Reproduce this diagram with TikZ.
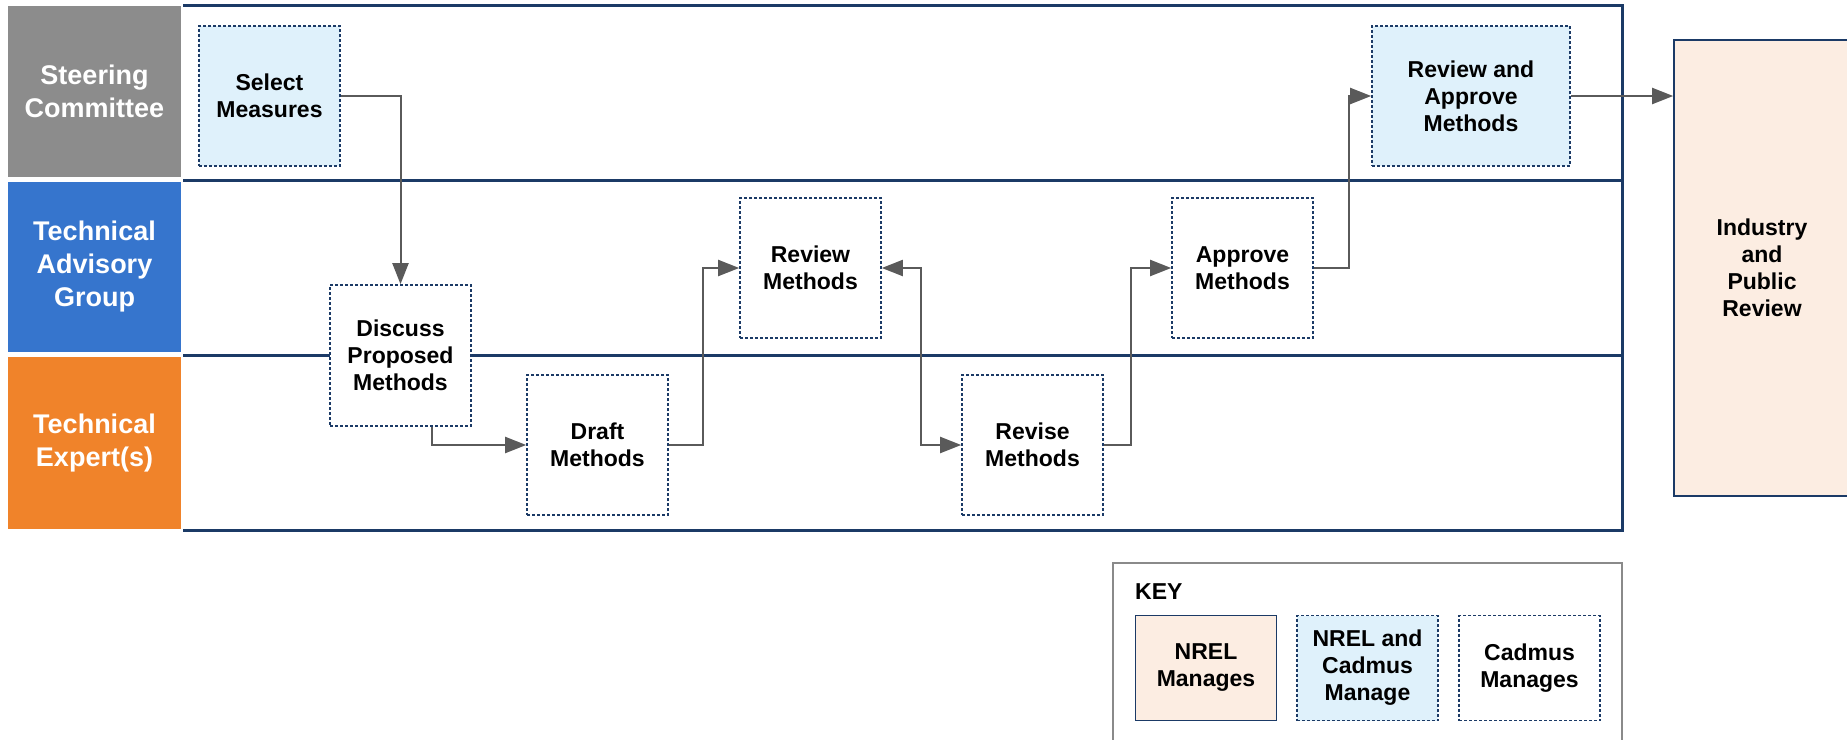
\documentclass[tikz,border=0pt]{standalone}
\usepackage{fontspec}
\setmainfont{Liberation Sans}
\usetikzlibrary{arrows.meta}

\definecolor{navy}{HTML}{1B3A66}
\definecolor{lanegray}{HTML}{8C8C8C}
\definecolor{laneblue}{HTML}{3675CD}
\definecolor{laneorange}{HTML}{F0832A}
\definecolor{paleblue}{HTML}{DFF1FB}
\definecolor{palepeach}{HTML}{FCEDE2}
\definecolor{flowgray}{HTML}{5A5A5A}
\definecolor{keygray}{HTML}{8A8A8A}

\tikzset{
  lanelabel/.style={fill=#1, text=white, inner sep=0pt, minimum width=173pt,
    minimum height=171pt, align=center, font=\fontsize{27}{33}\selectfont\bfseries},
  laneline/.style={draw=navy, line width=3pt},
  task/.style={draw=navy, line width=1.6pt, dash pattern=on 3pt off 2pt, fill=white,
    inner sep=0pt, minimum width=141pt, minimum height=140pt, align=center,
    font=\fontsize{23}{27}\selectfont\bfseries},
  jointtask/.style={task, fill=paleblue},
  nreltask/.style={task, solid, fill=palepeach},
  flow/.style={draw=flowgray, line width=2pt, -{Triangle[length=21pt,width=16pt]}},
}

\begin{document}
\begin{tikzpicture}[x=1pt,y=-1pt]
    \useasboundingbox (0,0) rectangle (1847,739);
    \node[lanelabel=lanegray] (sclab) at (94.5,91.5) {Steering\\Committee};
    \node[lanelabel=laneblue, minimum height=170pt] (taglab) at (94.5,267) {Technical\\Advisory\\Group};
    \node[lanelabel=laneorange, minimum height=172pt] (telab) at (94.5,443) {Technical\\Expert(s)};
    \draw[laneline] (183,5) -- (1622,5) -- (1622,530) -- (183,530);
    \draw[laneline] (183,180) -- (1622,180);
    \draw[laneline] (183,355) -- (1622,355);

    \node[jointtask] (sel) at (269.5,96) {Select\\Measures};
    \node[task, minimum height=141pt] (disc) at (400.5,355.5) {Discuss\\Proposed\\Methods};
    \node[task] (draft) at (597.5,445) {Draft\\Methods};
    \node[task] (revm) at (810.5,268) {Review\\Methods};
    \node[task] (revise) at (1032.5,445) {Revise\\Methods};
    \node[task] (appr) at (1242.5,268) {Approve\\Methods};
    \node[jointtask, minimum width=198pt] (revappr) at (1471,96) {Review and\\Approve\\Methods};
    \node[nreltask, minimum width=176pt, minimum height=456pt] (pub) at (1762,268) {Industry\\and\\Public\\Review};

    \draw[flow] (sel.east) -| (disc.north);
    \draw[flow] ([xshift=31.5pt]disc.south) |- (draft.west);
    \draw[flow] (draft.east) -- ++(34,0) |- (revm.west);
    \draw[flow, {Triangle[length=21pt,width=16pt]}-{Triangle[length=21pt,width=16pt]}]
        (revm.east) -- ++(39,0) |- (revise.west);
    \draw[flow] (revise.east) -- ++(27,0) |- (appr.west);
    \draw[flow] (appr.east) -- ++(35,0) |- (revappr.west);
    \draw[flow] (revappr.east) -- (revappr.east -| pub.west);

    \draw[keygray, line width=1.5pt] (1113,563) rectangle (1622,760);
    \node[anchor=west, inner sep=0pt, font=\fontsize{23}{27}\selectfont\bfseries] (keytitle) at (1135,592) {KEY};
    \node[nreltask, minimum height=105pt] (keynrel) at (1206,668) {NREL\\Manages};
    \node[jointtask, minimum height=105pt] (keyboth) at (1367.5,668) {NREL and\\Cadmus\\Manage};
    \node[task, minimum height=105pt] (keycad) at (1529.5,668) {Cadmus\\Manages};
\end{tikzpicture}
\end{document}
